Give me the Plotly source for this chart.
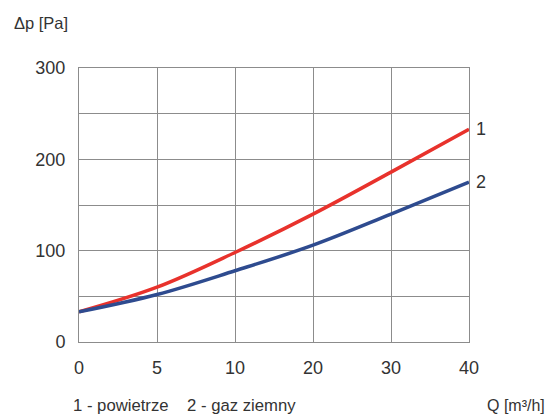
import numpy as np
import plotly.graph_objects as go

# Axis labels as printed (evenly spaced gridlines)
q_ticks = [0, 5, 10, 20, 30, 40]
# Read values at each gridline
q_vals = [0, 5, 10, 20, 30, 40]
dp_air = [33, 60, 98, 140, 186, 233]      # 1 - powietrze
dp_gas = [33, 52, 78, 106, 140, 175]      # 2 - gaz ziemny
y_ticks = [0, 50, 100, 150, 200, 250, 300]
y_ticktext = ["0", "", "100", "", "200", "", "300"]

pos = np.interp(q_vals, q_ticks, np.arange(len(q_ticks)))

FONT = "Liberation Sans, Arial, sans-serif"
TXT = "#333333"
GRID = "#8c8c8c"

fig = go.Figure()
fig.add_trace(go.Scatter(x=pos, y=dp_air, mode="lines",
                         line=dict(color="#e8322c", width=3.5, shape="spline"),
                         showlegend=False))
fig.add_trace(go.Scatter(x=pos, y=dp_gas, mode="lines",
                         line=dict(color="#2e4b8f", width=3.5, shape="spline"),
                         showlegend=False))

fig.update_layout(
    width=551, height=417,
    margin=dict(l=79, r=82, t=68, b=75),
    paper_bgcolor="white", plot_bgcolor="white",
    font=dict(family=FONT, color=TXT),
    xaxis=dict(range=[0, len(q_ticks) - 1], tickvals=list(range(len(q_ticks))),
               ticktext=[str(t) for t in q_ticks], showgrid=True, gridcolor=GRID,
               gridwidth=1, zeroline=False, showline=True, linecolor=GRID,
               linewidth=1, mirror=True, ticks="", tickfont=dict(size=18, color=TXT),
               ticklabelstandoff=9, fixedrange=True),
    yaxis=dict(range=[0, 300], tickvals=y_ticks, ticktext=y_ticktext,
               showgrid=True, gridcolor=GRID, gridwidth=1, zeroline=False,
               showline=True, linecolor=GRID, linewidth=1, mirror=True, ticks="",
               tickfont=dict(size=18, color=TXT), ticklabelstandoff=9,
               fixedrange=True),
    annotations=[
        dict(text="Δp [Pa]", xref="paper", yref="paper", x=-0.172, y=1.163,
             xanchor="left", yanchor="middle", showarrow=False,
             font=dict(size=16.5, color=TXT)),
        dict(text="Q [m³/h]", xref="paper", yref="paper", x=1.2, y=-0.232,
             xanchor="right", yanchor="middle", showarrow=False,
             font=dict(size=16, color=TXT)),
        dict(text="1 - powietrze    2 - gaz ziemny", xref="paper", yref="paper",
             x=-0.02, y=-0.232, xanchor="left", yanchor="middle", showarrow=False,
             font=dict(size=16.7, color=TXT)),
        dict(text="1", xref="paper", yref="y", x=1.012, y=dp_air[-1],
             xanchor="left", yanchor="middle", showarrow=False,
             font=dict(size=18, color=TXT)),
        dict(text="2", xref="paper", yref="y", x=1.012, y=dp_gas[-1],
             xanchor="left", yanchor="middle", showarrow=False,
             font=dict(size=18, color=TXT)),
    ],
)

fig.write_html("out.html")
